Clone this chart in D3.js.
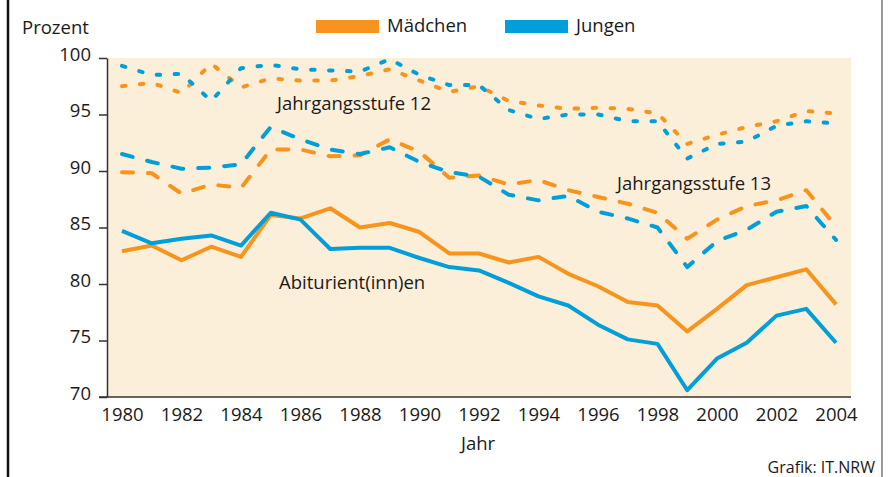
<!DOCTYPE html>
<html>
<head>
<meta charset="utf-8">
<script src="https://cdn.jsdelivr.net/npm/d3@7"></script>
<style>
  html, body { margin: 0; padding: 0; background: #fff; }
  svg { display: block; }
  text { font-family: "Open Sans", "Noto Sans", sans-serif; fill: #1a1a1a; }
</style>
</head>
<body>
<div id="chart"></div>
<script>
// Anteile (Prozent) nach Jahr, Mädchen vs. Jungen
const years = d3.range(1980, 2005);
const abiMaedchen = [82.9, 83.4, 82.1, 83.3, 82.4, 86.1, 85.8, 86.7, 85.0, 85.4, 84.6, 82.7, 82.7, 81.9, 82.4, 80.9, 79.8, 78.4, 78.1, 75.8, 77.8, 79.9, 80.6, 81.3, 78.2];
const abiJungen   = [84.7, 83.6, 84.0, 84.3, 83.4, 86.3, 85.7, 83.1, 83.2, 83.2, 82.3, 81.5, 81.2, 80.1, 78.9, 78.1, 76.4, 75.1, 74.7, 70.6, 73.4, 74.8, 77.2, 77.8, 74.8];
const js13Maedchen = [89.9, 89.8, 88.0, 88.8, 88.5, 91.9, 91.9, 91.3, 91.4, 92.8, 91.7, 89.4, 89.6, 88.8, 89.2, 88.3, 87.7, 87.1, 86.3, 84.0, 85.7, 86.9, 87.4, 88.3, 85.1];
const js13Jungen   = [91.5, 90.8, 90.2, 90.3, 90.6, 93.9, 92.8, 91.9, 91.5, 92.1, 90.8, 89.9, 89.5, 87.9, 87.4, 87.8, 86.4, 85.8, 85.0, 81.5, 83.8, 84.8, 86.4, 86.9, 83.9];
const js12Maedchen = [97.5, 97.8, 96.9, 99.5, 97.4, 98.2, 98.0, 98.0, 98.4, 99.0, 98.0, 97.0, 97.5, 96.2, 95.8, 95.5, 95.6, 95.5, 95.1, 92.4, 93.2, 93.9, 94.4, 95.3, 95.1];
const js12Jungen   = [99.3, 98.5, 98.6, 96.2, 99.1, 99.4, 99.0, 98.9, 98.8, 99.9, 98.5, 97.6, 97.6, 95.4, 94.6, 95.0, 95.0, 94.4, 94.4, 91.1, 92.4, 92.6, 94.0, 94.4, 94.2];
const yTicks = [70, 75, 80, 85, 90, 95, 100];
const xTicks = d3.range(1980, 2005, 2);

const ORANGE = "#f7941d", BLUE = "#009fda", CREAM = "#fcefd9", AXIS = "#333";
const W = 888, H = 477, FS = 18.5;

const series = [
  { vals: js12Maedchen, col: ORANGE, dash: "3.5 14.5" },
  { vals: js12Jungen,   col: BLUE,   dash: "3.5 14.5" },
  { vals: js13Maedchen, col: ORANGE, dash: "11 15" },
  { vals: js13Jungen,   col: BLUE,   dash: "11 15" },
  { vals: abiMaedchen,  col: ORANGE, dash: null },
  { vals: abiJungen,    col: BLUE,   dash: null },
];

const svg = d3.select("#chart").append("svg")
  .attr("width", W).attr("height", H);

const x = d3.scaleLinear().domain([1980, 2004]).range([122, 836]);
const y = d3.scaleLinear().domain([70, 100]).range([397, 58]);

// Rahmenlinien links / rechts
svg.append("line").attr("x1", 8).attr("x2", 8).attr("y1", 0).attr("y2", H)
  .attr("stroke", "#111").attr("stroke-width", 2.5);
svg.append("line").attr("x1", 882).attr("x2", 882).attr("y1", 0).attr("y2", H)
  .attr("stroke", "#9a9a9a").attr("stroke-width", 2);

// Hintergrund Plotfläche
svg.append("rect").attr("x", 107).attr("y", 58).attr("width", 851 - 107).attr("height", 397 - 58)
  .attr("fill", CREAM);

// Linien
const line = d3.line().x((d, i) => x(years[i])).y(d => y(d));
series.forEach(s => {
  svg.append("path")
    .attr("d", line(s.vals))
    .attr("fill", "none")
    .attr("stroke", s.col)
    .attr("stroke-width", 4)
    .attr("stroke-linejoin", "round")
    .attr("stroke-linecap", s.dash ? "round" : "butt")
    .attr("stroke-dasharray", s.dash);
});

// y-Achse
const ya = svg.append("g").attr("transform", "translate(107,0)")
  .call(d3.axisLeft(y).tickValues(yTicks).tickSize(8).tickSizeOuter(0).tickPadding(8));
ya.select(".domain").attr("stroke", AXIS).attr("stroke-width", 1.5);
ya.selectAll(".tick line").attr("stroke", AXIS).attr("stroke-width", 1.5);
ya.selectAll(".tick text").attr("dy", "0.12em")
  .style("font-size", FS + "px").style("font-family", null).attr("fill", "#1a1a1a");

// x-Achse
svg.append("line").attr("x1", 99).attr("x2", 851).attr("y1", 397).attr("y2", 397)
  .attr("stroke", AXIS).attr("stroke-width", 1.5);
const xa = svg.append("g").attr("transform", "translate(0,397)")
  .call(d3.axisBottom(x).tickValues(xTicks).tickFormat(d3.format("d")).tickSize(0).tickPadding(11));
xa.select(".domain").remove();
xa.selectAll(".tick text").attr("dy", "0.71em")
  .style("font-size", FS + "px").style("font-family", null).attr("fill", "#1a1a1a");

// Beschriftungen
const txt = (t, xx, yy, size, anchor) => svg.append("text")
  .attr("x", xx).attr("y", yy).attr("text-anchor", anchor || "start")
  .style("font-size", size + "px").text(t);
txt("Prozent", 22, 34, FS);
txt("Jahrgangsstufe 12", 277, 110, FS);
txt("Jahrgangsstufe 13", 617, 190, FS);
txt("Abiturient(inn)en", 279, 289, FS);
txt("Jahr", 461, 450, FS);
txt("Grafik: IT.NRW", 875, 473, 16, "end");

// Legende
const legend = [
  { name: "Mädchen", col: ORANGE, x: 316 },
  { name: "Jungen", col: BLUE, x: 505 },
];
legend.forEach(l => {
  svg.append("rect").attr("x", l.x).attr("y", 20).attr("width", 63).attr("height", 13).attr("fill", l.col);
  txt(l.name, l.x + 71, 32, FS);
});
</script>
</body>
</html>
